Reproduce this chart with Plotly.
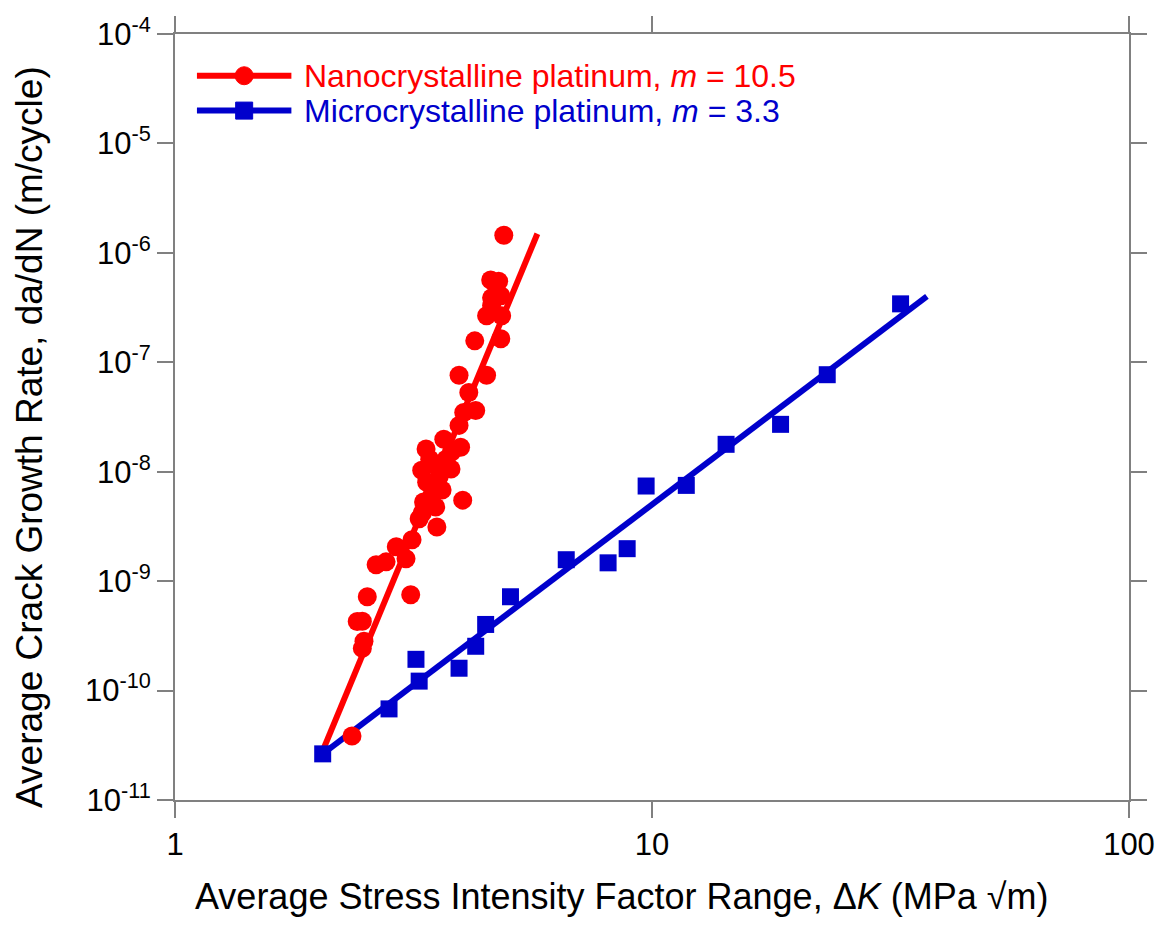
import numpy as np
import plotly.graph_objects as go

# Fatigue crack growth data: stress intensity range (MPa sqrt(m)) vs. da/dN (m/cycle)
nano_K = [2.35, 2.49, 2.47, 2.41, 2.47, 2.53, 3.12, 2.64, 2.77, 3.05, 2.91, 3.14,
          3.25, 3.54, 3.32, 3.52, 4.01, 3.37, 3.63, 3.29, 3.54, 3.79, 3.36, 3.66,
          3.97, 3.80, 3.94, 4.03, 4.27, 4.13, 3.94, 4.50, 4.25, 4.82, 4.50, 4.84,
          4.61, 4.59, 4.77, 4.89, 4.82, 4.61, 3.45, 3.42, 3.70, 3.30, 3.58]
nano_rate = [3.85e-11, 2.82e-10, 2.43e-10, 4.28e-10, 4.3e-10, 7.2e-10, 7.5e-10,
             1.41e-9, 1.50e-9, 1.60e-9, 2.06e-9, 2.39e-9, 3.71e-9, 3.13e-9,
             5.3e-9, 4.76e-9, 5.5e-9, 8.0e-9, 6.8e-9, 1.03e-8, 1.12e-8, 1.06e-8,
             1.61e-8, 1.98e-8, 1.67e-8, 1.51e-8, 2.65e-8, 3.48e-8, 3.63e-8,
             5.3e-8, 7.6e-8, 7.6e-8, 1.57e-7, 1.64e-7, 2.66e-7, 2.66e-7, 3.88e-7,
             5.66e-7, 5.5e-7, 1.45e-6, 4.05e-7, 3.3e-7, 6.0e-9, 1.3e-8, 1.3e-8,
             4.2e-9, 9.0e-9]

micro_K = [2.04, 2.81, 3.20, 3.25, 3.94, 4.27, 4.48, 5.05, 6.61, 8.09, 8.87,
           9.72, 11.8, 14.3, 18.6, 23.3, 33.2]
micro_rate = [2.64e-11, 6.8e-11, 1.93e-10, 1.22e-10, 1.60e-10, 2.54e-10,
              4.02e-10, 7.2e-10, 1.57e-9, 1.47e-9, 1.98e-9, 7.4e-9, 7.5e-9,
              1.78e-8, 2.71e-8, 7.7e-8, 3.42e-7]

# Paris-law fits: da/dN = C * dK^m
nano_m = 10.5
nano_C = 10 ** -13.802
nano_fit_K = [2.04, 5.75]
micro_m = 3.3
micro_C = 2.51e-12
micro_fit_K = [2.04, 37.7]

y_tickvals = [1e-11, 1e-10, 1e-9, 1e-8, 1e-7, 1e-6, 1e-5, 1e-4]
y_ticktext = ["10<sup>-11</sup>", "10<sup>-10</sup>", "10<sup>-9</sup>", "10<sup>-8</sup>",
              "10<sup>-7</sup>", "10<sup>-6</sup>", "10<sup>-5</sup>", "10<sup>-4</sup>"]
x_tickvals = [1, 10, 100]
x_ticktext = ["1", "10", "100"]

RED = "#FF0000"
BLUE = "#0000CC"
FONT = "Liberation Sans, Arial, sans-serif"

fig = go.Figure()

nk = np.array(nano_fit_K)
fig.add_trace(go.Scatter(x=nk, y=nano_C * nk ** nano_m, mode="lines",
                         line=dict(color=RED, width=6), showlegend=False))
mk = np.array(micro_fit_K)
fig.add_trace(go.Scatter(x=mk, y=micro_C * mk ** micro_m, mode="lines",
                         line=dict(color=BLUE, width=6), showlegend=False))

fig.add_trace(go.Scatter(x=nano_K, y=nano_rate, mode="markers",
                         marker=dict(symbol="circle", size=19, color=RED),
                         showlegend=False))
fig.add_trace(go.Scatter(x=micro_K, y=micro_rate, mode="markers",
                         marker=dict(symbol="square", size=17, color=BLUE),
                         showlegend=False))

# Hand-built legend: long line sample with a centred marker
legend_rows = [
    (0.9455, RED, "circle", "Nanocrystalline platinum, <i>m</i> = 10.5"),
    (0.900, BLUE, "rect", "Microcrystalline platinum, <i>m</i> = 3.3"),
]
shapes = []
annotations = []
for ypos, color, kind, label in legend_rows:
    shapes.append(dict(type="line", xref="paper", yref="paper",
                       x0=0.023, x1=0.122, y0=ypos, y1=ypos,
                       line=dict(color=color, width=6)))
    r = 9 if kind == "circle" else 8.5
    shapes.append(dict(type="circle" if kind == "circle" else "rect",
                       xref="paper", yref="paper",
                       xsizemode="pixel", ysizemode="pixel",
                       xanchor=0.0725, yanchor=ypos,
                       x0=-r, x1=r, y0=-r, y1=r,
                       fillcolor=color, line=dict(color=color, width=1)))
    annotations.append(dict(xref="paper", yref="paper", x=0.1326, y=ypos,
                            xanchor="left", yanchor="middle", showarrow=False,
                            text=label, font=dict(family=FONT, size=32, color=color)))

# Axis titles placed as annotations so their centres sit where they belong
annotations.append(dict(xref="paper", yref="paper", x=0.4677, y=-0.126,
                        xanchor="center", yanchor="middle", showarrow=False,
                        text="Average Stress Intensity Factor Range, \u0394<i>K</i> (MPa \u221am)",
                        font=dict(family=FONT, size=36, color="black")))
annotations.append(dict(xref="paper", yref="paper", x=-0.152, y=0.474,
                        xanchor="center", yanchor="middle", showarrow=False,
                        textangle=-90,
                        text="Average Crack Growth Rate, da/dN (m/cycle)",
                        font=dict(family=FONT, size=37, color="black")))

axis_common = dict(type="log", showline=True, linecolor="#808080", linewidth=2,
                   mirror="ticks", ticks="outside", ticklen=16, tickwidth=2,
                   tickcolor="#808080", showgrid=False, zeroline=False,
                   tickfont=dict(family=FONT, size=31, color="black"))

fig.update_layout(
    width=1167, height=935,
    margin=dict(l=175, r=34, t=30, b=135),
    paper_bgcolor="white", plot_bgcolor="white",
    shapes=shapes, annotations=annotations,
    xaxis=dict(range=[0, 2], tickvals=x_tickvals, ticktext=x_ticktext, **axis_common),
    yaxis=dict(range=[-11, -4], tickvals=y_tickvals, ticktext=y_ticktext, **axis_common),
)

fig.write_html("out.html")
